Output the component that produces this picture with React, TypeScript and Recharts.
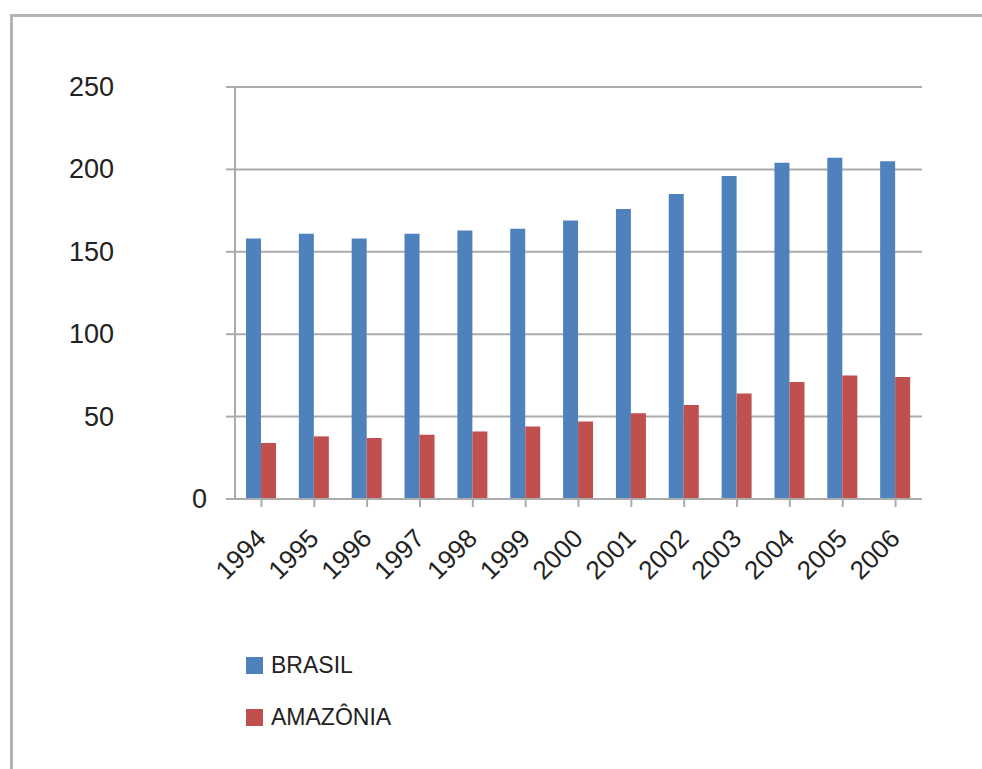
import React from 'react';
import { BarChart, Bar, XAxis, YAxis, CartesianGrid } from 'recharts';

/** Anos no eixo X */
const YEARS = ['1994', '1995', '1996', '1997', '1998', '1999', '2000', '2001', '2002', '2003', '2004', '2005', '2006'];
/** Série BRASIL */
const BRASIL = [158, 161, 158, 161, 163, 164, 169, 176, 185, 196, 204, 207, 205];
/** Série AMAZÔNIA */
const AMAZONIA = [34, 38, 37, 39, 41, 44, 47, 52, 57, 64, 71, 75, 74];
/** Ticks do eixo Y */
const Y_TICKS = [0, 50, 100, 150, 200, 250];

const BLUE = '#4F81BD';
const RED = '#C0504D';
const GRID = '#ababab';
const FONT = '"Liberation Sans", Arial, sans-serif';

const SERIES = [
  { key: 'brasil', name: 'BRASIL', color: BLUE },
  { key: 'amazonia', name: 'AMAZÔNIA', color: RED },
];

const data = YEARS.map((year, i) => ({ year, brasil: BRASIL[i], amazonia: AMAZONIA[i] }));

function YTick(props: any): React.JSX.Element {
  const { x, y, payload } = props;
  const tx = payload.value === 0 ? x - 17 : x - 110;
  return (
    <text x={tx} y={y} dy={9} textAnchor="end" fontSize={27} fill="#222" fontFamily={FONT}>
      {payload.value}
    </text>
  );
}

function XTick(props: any): React.JSX.Element {
  const { x, y, payload } = props;
  return (
    <g transform={`translate(${x + 6},${y + 31})`}>
      <text x={0} y={0} textAnchor="end" transform="rotate(-45)" fontSize={26} fill="#222" fontFamily={FONT}>
        {payload.value}
      </text>
    </g>
  );
}

export default function App(): React.JSX.Element {
  return (
    <div style={{ position: 'absolute', left: 0, top: 0, width: 982, height: 769, background: '#fff', overflow: 'hidden' }}>
      <div
        style={{
          position: 'absolute', left: 10, top: 14, width: 990, height: 770,
          borderTop: '3px solid #b4b4b4', borderLeft: '3px solid #b4b4b4',
        }}
      />
      <div style={{ position: 'absolute', left: 0, top: 0 }}>
        <BarChart
          width={982}
          height={769}
          data={data}
          margin={{ top: 87, right: 60, bottom: 170, left: 0 }}
          barGap={0}
          barSize={15}
        >
          <CartesianGrid vertical={false} stroke={GRID} strokeWidth={2} />
          <XAxis
            dataKey="year"
            height={100}
            interval={0}
            stroke={GRID}
            strokeWidth={2}
            tickSize={8}
            tick={<XTick />}
          />
          <YAxis
            width={235}
            domain={[0, 250]}
            ticks={Y_TICKS}
            stroke={GRID}
            strokeWidth={2}
            tickSize={9}
            tick={<YTick />}
          />
          {SERIES.map((s) => (
            <Bar key={s.key} dataKey={s.key} name={s.name} fill={s.color} isAnimationActive={false} />
          ))}
        </BarChart>
      </div>
      <div style={{ position: 'absolute', left: 246, top: 639, fontFamily: FONT, fontSize: 23, color: '#222' }}>
        {SERIES.map((s) => (
          <div key={s.key} style={{ display: 'flex', alignItems: 'center', height: 52 }}>
            <span style={{ width: 17, height: 17, background: s.color, display: 'inline-block', marginRight: 8 }} />
            <span>{s.name}</span>
          </div>
        ))}
      </div>
    </div>
  );
}
